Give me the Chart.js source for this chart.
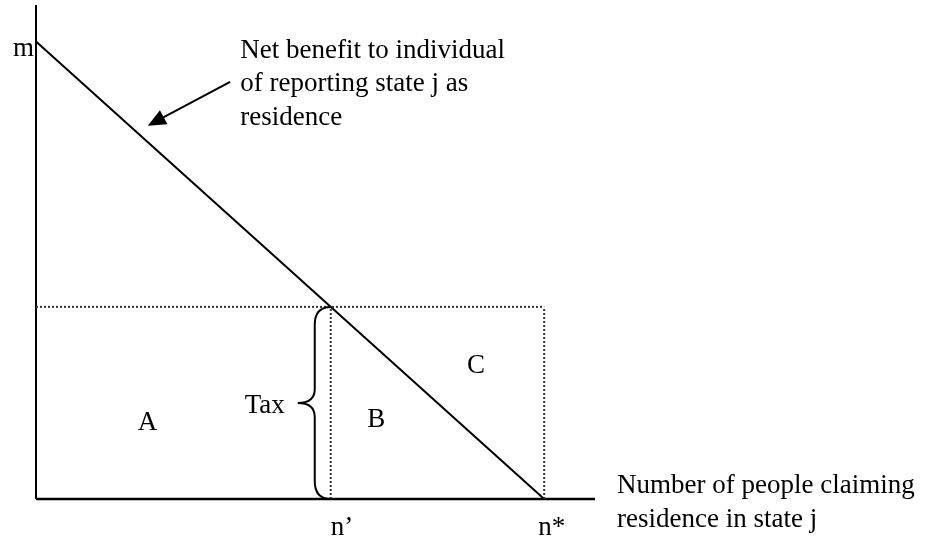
<!DOCTYPE html>
<html>
<head>
<meta charset="utf-8">
<script src="https://cdn.jsdelivr.net/npm/chart.js@4.4.1/dist/chart.umd.min.js"></script>
<style>
html,body{margin:0;padding:0;background:#fff}
#wrap{width:940px;height:544px}
</style>
</head>
<body>
<div id="wrap"><canvas id="c" width="940" height="544"></canvas></div>
<script>
// values (arbitrary units)
const demandX = [0, 10]
const demandY = [10, 0]
const taxLevel = [4.2]
const nPrime = [5.8]
const nStar = [10]
const axisMax = {x: 11, y: 10.8}
const tickLabels = ['m', 'n\u2019', 'n*']
const areaLabels = ['A', 'B', 'C']
const curveNote = ['Net benefit to individual', 'of reporting state j as', 'residence']
const xTitle = ['Number of people claiming', 'residence in state j']
const taxLabel = 'Tax'

const FONT = '27px "Liberation Serif", "Times New Roman", serif'

const pts = (xs, ys) => xs.map((x, i) => ({x, y: ys[i]}))

const solid = (data, w) => ({data, borderColor:'#000', borderWidth:w, pointRadius:0, fill:false, tension:0, clip:false})
const dotted = data => ({data, borderColor:'#333', borderWidth:2, borderDash:[2,2], pointRadius:0, fill:false, tension:0, clip:false})

const annot = {
  id: 'annot',
  afterDatasetsDraw(chart){
    const {ctx} = chart
    const xs = chart.scales.x, ys = chart.scales.y
    const px = v => xs.getPixelForValue(v), py = v => ys.getPixelForValue(v)
    ctx.save()
    ctx.fillStyle = '#000'
    ctx.strokeStyle = '#000'
    ctx.font = FONT
    ctx.textBaseline = 'alphabetic'

    // tick style labels
    ctx.textAlign = 'right'
    ctx.fillText(tickLabels[0], px(0) - 2, py(demandY[0]) + 14)
    ctx.textAlign = 'left'
    ctx.fillText(tickLabels[1], px(nPrime[0]), py(0) + 36)
    ctx.fillText(tickLabels[2], px(nStar[0]) - 6, py(0) + 36)

    // area letters
    ctx.fillText(areaLabels[0], px(2.0), py(1.51))
    ctx.fillText(areaLabels[1], px(6.52), py(1.58))
    ctx.fillText(areaLabels[2], px(8.48), py(2.76))

    // note on the curve
    curveNote.forEach((t, i) => ctx.fillText(t, px(4.02), py(9.65) + i * 33.5))

    // x axis title
    xTitle.forEach((t, i) => ctx.fillText(t, px(axisMax.x) + 22, py(0) - 6 + i * 34))

    // arrow to the curve
    const ax0 = px(3.82), ay0 = py(9.12), ax1 = px(2.2), ay1 = py(8.16)
    const ang = Math.atan2(ay1 - ay0, ax1 - ax0)
    const hl = 18, hw = 8
    ctx.lineWidth = 2
    ctx.beginPath()
    ctx.moveTo(ax0, ay0)
    ctx.lineTo(ax1 - Math.cos(ang) * hl * 0.8, ay1 - Math.sin(ang) * hl * 0.8)
    ctx.stroke()
    ctx.beginPath()
    ctx.moveTo(ax1, ay1)
    ctx.lineTo(ax1 - Math.cos(ang) * hl - Math.sin(ang) * hw, ay1 - Math.sin(ang) * hl + Math.cos(ang) * hw)
    ctx.lineTo(ax1 - Math.cos(ang) * hl + Math.sin(ang) * hw, ay1 - Math.sin(ang) * hl - Math.cos(ang) * hw)
    ctx.closePath()
    ctx.fill()

    // brace for the tax
    const bx = px(nPrime[0]), top = py(taxLevel[0]), bot = py(0)
    const mid = (top + bot) / 2
    const xr = bx, xm = bx - 16, xt = bx - 33
    ctx.lineWidth = 2
    ctx.beginPath()
    ctx.moveTo(xr, top)
    ctx.quadraticCurveTo(xm, top, xm, top + 18)
    ctx.lineTo(xm, mid - 14)
    ctx.quadraticCurveTo(xm, mid, xt, mid)
    ctx.quadraticCurveTo(xm, mid, xm, mid + 14)
    ctx.lineTo(xm, bot - 18)
    ctx.quadraticCurveTo(xm, bot, xr, bot)
    ctx.stroke()

    ctx.textAlign = 'right'
    ctx.fillText(taxLabel, xt - 13, mid + 10)
    ctx.restore()
  }
}

new Chart(document.getElementById('c'), {
  type: 'line',
  data: {
    datasets: [
      dotted([{x:0, y:taxLevel[0]}, {x:nStar[0], y:taxLevel[0]}]),
      dotted([{x:nPrime[0], y:0}, {x:nPrime[0], y:taxLevel[0]}]),
      dotted([{x:nStar[0], y:0}, {x:nStar[0], y:taxLevel[0]}]),
      solid(pts(demandX, demandY), 2),
      solid([{x:0, y:0}, {x:0, y:axisMax.y}], 2),
      solid([{x:0, y:0}, {x:axisMax.x, y:0}], 2.5)
    ]
  },
  options: {
    responsive: false,
    animation: false,
    layout: {padding: {left: 36, right: 345, top: 5, bottom: 45}},
    plugins: {legend: {display: false}, tooltip: {enabled: false}},
    scales: {
      x: {type: 'linear', min: 0, max: axisMax.x, display: false},
      y: {type: 'linear', min: 0, max: axisMax.y, display: false}
    }
  },
  plugins: [annot]
})
</script>
</body>
</html>
